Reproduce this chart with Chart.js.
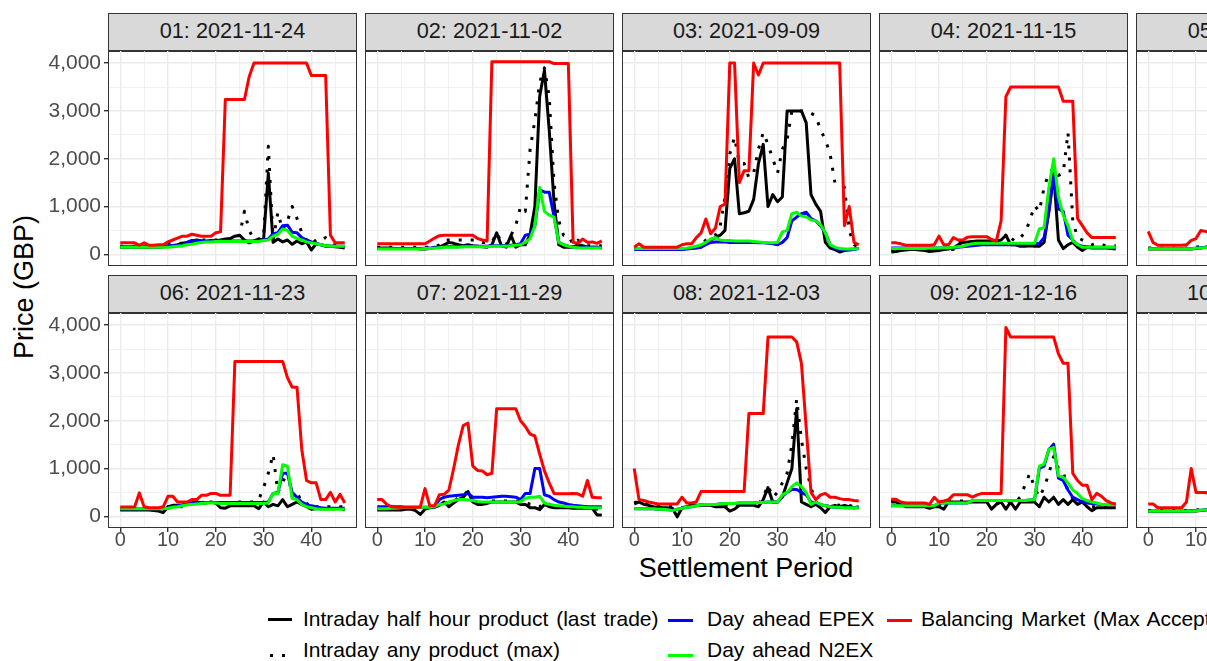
<!DOCTYPE html>
<html>
<head>
<meta charset="utf-8">
<script src="https://cdn.jsdelivr.net/npm/chart.js@4.4.1/dist/chart.umd.min.js"></script>
<style>
  html, body { margin: 0; padding: 0; width: 1207px; height: 661px; overflow: hidden; background: #fff; }
  body { position: relative; font-family: "Liberation Sans", Arial, sans-serif; }
  canvas { position: absolute; }
  .strip { position: absolute; box-sizing: border-box; background: #d9d9d9; border: 1.4px solid #333;
           color: #1a1a1a; font-size: 21.7px; text-align: center; white-space: nowrap; line-height: 34px; }
  .frame { position: absolute; box-sizing: border-box; border: 1.4px solid #333; pointer-events: none; }
  .title { position: absolute; color: #000; font-size: 27px; white-space: nowrap; }
  .lg-text { position: absolute; font-size: 21px; word-spacing: 2px; color: #000; white-space: nowrap; line-height: 24px; }
  .lg-key { position: absolute; height: 3px; }
</style>
</head>
<body>
<div class="title" id="ytitle" style="left:24px; top:287px; transform:translate(-50%,-50%) rotate(-90deg);">Price (GBP)</div>
<div class="title" style="left:746px; top:568px; transform:translate(-50%,-50%);">Settlement Period</div>

<div class="lg-key" style="left:268px; top:618px; width:24px; background:#000;"></div>
<div class="lg-text" style="left:303px; top:607px;">Intraday half hour product (last trade)</div>
<div class="lg-key" style="left:270px; top:654px; width:20px; background:repeating-linear-gradient(to right, #000 0 3px, transparent 3px 12px);"></div>
<div class="lg-text" style="left:303px; top:638px;">Intraday any product (max)</div>
<div class="lg-key" style="left:668px; top:619px; width:25px; background:#0000ff;"></div>
<div class="lg-text" style="left:707px; top:607px;">Day ahead EPEX</div>
<div class="lg-key" style="left:668px; top:654px; width:25px; background:#00ff00;"></div>
<div class="lg-text" style="left:707px; top:638px;">Day ahead N2EX</div>
<div class="lg-key" style="left:887px; top:619px; width:25px; background:#ff0000;"></div>
<div class="lg-text" style="left:921px; top:607px;">Balancing Market (Max Accepted Offer)</div>

<script>
// settlement periods (x values)
const periods = [0,1,2,3,4,5,6,7,8,9,10,11,12,13,14,15,16,17,18,19,20,21,22,23,
  24,25,26,27,28,29,30,31,32,33,34,35,36,37,38,39,40,41,42,43,44,45,46,47];

const xMajor = [0, 10, 20, 30, 40];
const xMinor = [5, 15, 25, 35, 45];
const yMajor = [0, 1000, 2000, 3000, 4000];
const yMinor = [500, 1500, 2500, 3500];

const panelTitles = ['01: 2021-11-24', '02: 2021-11-02', '03: 2021-09-09', '04: 2021-11-15', '05: 2021-11-26',
  '06: 2021-11-23', '07: 2021-11-29', '08: 2021-12-03', '09: 2021-12-16', '10: 2021-12-21'];

// 01
const p01_intraday = [150,150,150,150,150,150,150,150,150,160, 170,180,200,230,250,280,300,280,270,290, 280,300,320,330,380,400,300,240,280,320, 300,1700,250,320,260,300,210,280,220,260, 90,220,200,180,170,160,150,130];
const p01_anyMax = [170,170,170,170,170,170,170,170,170,170, 230,230,230,230,230,230,300,300,300,300, 300,300,300,320,350,400,900,500,300,320, 350,2260,300,880,500,700,1000,750,450,300, 380,250,300,350,280,200,180,150];
const p01_epex = [160,160,160,160,160,160,160,160,160,160, 180,180,180,180,250,290,290,280,280,280, 280,280,280,280,280,280,280,280,280,280, 300,320,430,450,600,610,460,450,350,300, 260,230,200,170,170,170,170,170];
const p01_n2ex = [150,150,150,150,150,150,150,150,150,150, 150,160,170,180,200,210,230,250,260,260, 270,270,270,270,270,270,270,270,270,270, 290,300,380,420,530,500,380,330,300,260, 240,220,200,180,170,170,170,170];
const p01_bm = [240,240,240,240,190,240,190,190,200,200, 260,300,340,380,380,420,400,380,380,380, 450,470,3240,3240,3240,3240,3240,3720,4000,4000, 4000,4000,4000,4000,4000,4000,4000,4000,4000,4000, 3740,3740,3740,3740,400,240,240,240];

// 02
const p02_intraday = [130,130,130,130,120,120,120,120,120,110, 110,120,150,150,200,250,230,200,180,200, 180,170,160,150,200,450,180,150,400,150, 200,200,420,1000,3300,3850,2600,1100,200,150, 150,150,200,180,150,150,150,130];
const p02_anyMax = [150,150,150,150,150,150,150,150,150,150, 150,150,150,200,300,300,300,300,300,300, 300,300,250,250,250,450,250,200,400,600, 1000,900,2200,2800,3600,3900,3300,1500,700,400, 400,200,300,200,180,180,180,180];
const p02_epex = [120,120,120,120,120,120,120,120,120,120, 130,130,140,150,160,160,160,160,170,170, 170,170,170,170,180,180,180,180,190,200, 220,400,420,600,1350,1300,1300,800,250,200, 170,160,150,150,150,150,150,150];
const p02_n2ex = [110,110,110,110,110,110,110,110,110,110, 120,120,130,140,150,150,150,150,160,160, 160,160,160,160,170,170,170,170,180,190, 200,250,330,600,1400,900,820,780,250,200, 170,150,140,130,130,130,130,130];
const p02_bm = [220,220,220,220,220,220,220,220,220,220, 220,280,340,390,400,400,400,400,400,400, 400,330,300,280,4030,4030,4030,4030,4030,4030, 4030,4030,4030,4030,4030,4030,4030,3990,3990,3990, 3990,250,230,320,250,260,230,280];

// 03
const p03_intraday = [120,110,110,100,100,100,100,100,100,110, 110,120,130,140,150,250,300,350,400,500, 1800,2000,850,870,900,1150,1900,2300,1000,1250, 1100,1200,3000,3000,3000,3000,2750,1250,1050,900, 250,130,100,50,80,100,110,130];
const p03_anyMax = [120,120,120,120,120,120,120,120,120,120, 120,120,120,150,200,300,350,400,600,1200, 2100,2450,1900,1900,1600,1700,2200,2550,2300,2000, 1700,2200,2400,3000,3000,3000,3000,2950,2900,2600, 2400,2100,1500,1450,1400,500,200,150];
const p03_epex = [100,100,100,100,100,100,100,100,100,100, 100,110,120,130,150,200,250,260,260,260, 250,250,250,250,250,250,240,240,230,220, 200,250,350,700,780,850,880,750,700,600, 450,200,120,100,90,90,100,120];
const p03_n2ex = [120,120,120,120,120,120,120,120,120,120, 120,130,150,170,200,250,320,350,300,290, 290,280,280,280,280,270,260,250,240,240, 250,470,500,850,880,800,780,720,700,620, 450,200,150,120,110,110,110,120];
const p03_bm = [150,220,150,150,150,150,150,150,150,150, 200,220,220,350,450,740,430,550,1000,1050, 4000,4000,1500,1750,1750,4000,3750,4000,4000,4000, 4000,4000,4000,4000,4000,4000,4000,4000,4000,4000, 4000,4000,4000,4000,600,1000,250,200];

// 04
const p04_intraday = [50,60,80,90,100,100,90,80,60,70, 80,100,110,130,200,250,260,270,280,280, 280,280,280,300,400,200,200,170,170,180, 170,170,250,900,1700,300,120,200,250,150, 80,150,130,130,130,130,120,110];
const p04_anyMax = [100,100,100,100,100,100,100,100,100,100, 100,100,100,100,270,270,270,270,270,270, 270,270,270,350,400,250,380,350,450,700, 1020,900,1400,1700,1800,1650,1700,2550,700,350, 300,250,200,230,200,180,180,180];
const p04_epex = [130,130,130,130,130,130,130,130,130,130, 130,130,130,130,150,160,170,180,190,200, 200,200,200,200,200,200,200,200,210,210, 220,230,350,900,1640,950,900,400,300,200, 170,160,150,150,150,150,150,150];
const p04_n2ex = [120,120,120,120,120,120,120,120,130,130, 130,140,140,150,160,170,200,220,230,230, 230,230,230,230,230,230,230,230,230,230, 230,530,560,1400,2000,1200,820,600,280,200, 150,150,150,150,150,150,150,150];
const p04_bm = [240,240,220,190,190,190,190,190,190,200, 380,200,200,350,300,300,360,370,370,370, 370,310,280,700,3300,3500,3500,3500,3500,3500, 3500,3500,3500,3500,3500,3500,3200,3200,3200,750, 600,450,350,350,350,350,350,350];

// 05
const p05_intraday = [110,110,110,110,110,110,110,110,110,110, 120,130,150,170,200,220,250,260,270,280, 300,320,350,400,500,700,900,1200,900,600, 450,400,350,300,280,260,250,240,230,220, 210,200,190,180,170,160,150,150];
const p05_anyMax = [130,130,130,130,130,130,130,130,130,130, 150,160,180,200,230,260,290,300,320,340, 360,400,450,550,800,1100,1500,1800,1300,900, 700,600,500,420,380,340,310,290,270,250, 240,230,220,210,200,190,180,170];
const p05_epex = [120,120,120,120,120,120,120,120,120,120, 130,140,150,170,190,210,230,240,250,260, 270,280,300,330,380,420,450,480,450,420, 380,350,320,300,280,260,240,220,200,190, 180,170,160,150,150,150,150,150];
const p05_n2ex = [115,115,115,115,115,115,115,115,115,115, 125,135,145,165,185,205,225,235,245,255, 265,275,290,320,370,410,440,470,440,410, 370,340,310,290,270,250,230,210,195,185, 175,165,155,150,150,150,150,150];
const p05_bm = [480,250,190,190,190,190,190,190,200,290, 330,500,480,450,420,400,420,450,500,600, 800,1200,2500,3000,3200,3200,3200,3000,2800,2500, 2000,1500,1000,800,700,600,550,500,450,400, 380,350,330,320,300,300,280,280];

// 06
const p06_intraday = [130,130,130,130,130,130,130,120,110,80, 200,230,230,230,270,280,300,280,280,300, 280,180,170,220,220,220,220,220,220,160, 300,200,250,220,350,200,250,300,250,200, 150,160,160,160,160,160,170,130];
const p06_anyMax = [150,150,150,150,150,150,150,150,150,150, 200,200,200,200,200,280,280,300,280,280, 280,280,280,280,280,300,300,300,300,350, 600,900,1300,500,700,950,400,500,300,250, 300,200,200,200,200,200,200,200];
const p06_epex = [160,160,160,160,160,160,160,160,160,160, 170,200,220,240,260,270,280,290,290,290, 290,290,290,290,290,290,290,290,290,290, 290,300,480,500,900,900,500,400,300,250, 220,200,180,170,170,170,170,170];
const p06_n2ex = [160,160,160,160,160,160,160,160,160,160, 170,190,200,220,240,250,260,270,280,280, 280,270,270,270,270,270,270,270,270,270, 270,280,480,480,1080,1050,370,350,250,200, 180,160,150,150,150,150,150,150];
const p06_bm = [195,195,195,195,490,200,180,180,180,200, 420,420,300,300,300,350,350,440,440,480, 480,440,440,440,3240,3240,3240,3240,3240,3240, 3240,3240,3240,3240,3240,2900,2700,2700,1400,750, 700,700,350,350,500,300,460,280];

// 07
const p07_intraday = [130,130,130,130,130,130,150,150,120,40, 150,180,190,230,300,200,280,350,400,520, 300,250,250,270,300,300,300,300,300,300, 250,250,180,180,140,250,200,180,180,180, 180,170,170,170,170,170,30,30];
const p07_anyMax = [150,150,150,150,150,150,170,170,150,100, 170,200,210,250,320,250,300,400,420,540, 320,280,280,290,320,320,320,320,320,320, 300,300,250,250,200,300,250,200,200,200, 200,200,200,200,200,200,150,100];
const p07_epex = [200,200,200,200,200,200,190,190,190,190, 190,190,200,350,400,420,430,440,450,480, 400,400,400,390,400,410,420,420,410,400, 350,480,480,1000,1000,450,420,350,300,280, 250,230,220,210,200,200,200,200];
const p07_n2ex = [160,160,160,170,170,180,190,190,190,190, 190,190,200,250,260,300,330,350,350,340, 330,310,300,300,300,300,300,300,300,300, 300,380,400,400,420,280,250,230,220,210, 200,200,190,190,180,180,180,180];
const p07_bm = [350,350,250,200,190,190,190,190,190,190, 580,220,220,450,460,550,1000,1500,1900,1950, 1050,960,950,870,900,2250,2250,2250,2250,2250, 2000,1880,1720,1680,1300,950,700,480,470,470, 470,480,470,420,750,400,390,390];

// 08
const p08_intraday = [260,300,250,230,200,190,180,180,170,-10, 180,200,230,230,230,230,230,200,200,200, 110,150,230,230,230,230,200,350,600,300, 300,400,700,1000,2250,300,250,200,250,180, 80,200,230,200,230,200,180,200];
const p08_anyMax = [280,320,280,250,230,220,200,200,200,100, 200,220,250,250,250,250,250,230,230,230, 200,200,260,260,260,260,250,400,650,400, 500,700,900,1500,2450,1600,1000,600,300,250, 200,230,250,230,250,230,200,220];
const p08_epex = [160,160,160,160,160,150,150,140,130,150, 170,190,200,220,240,250,250,250,260,270, 270,270,280,280,280,280,290,290,300,300, 300,420,500,560,560,500,450,300,280,250, 220,200,190,190,180,180,180,180];
const p08_n2ex = [160,160,160,160,160,150,150,140,120,150, 170,190,200,220,240,250,250,250,260,270, 270,270,280,280,280,280,290,290,300,300, 300,450,500,620,700,620,500,250,300,250, 220,200,190,190,180,180,180,180];
const p08_bm = [1000,350,330,300,280,260,260,260,260,260, 400,280,280,300,520,520,520,520,520,520, 520,520,520,520,2150,2150,2150,2150,3750,3750, 3750,3750,3750,3750,3650,3200,1850,500,350,450, 480,400,400,370,350,350,330,320];

// 09
const p09_intraday = [300,300,250,200,200,200,200,200,170,200, 200,150,300,300,300,300,300,300,300,300, 300,150,250,300,150,300,150,300,300,300, 300,200,400,300,400,250,350,250,350,250, 300,200,120,180,180,180,180,180];
const p09_anyMax = [320,320,280,250,250,250,250,250,220,250, 250,220,320,320,320,320,320,320,330,330, 330,300,300,330,300,330,300,400,650,900, 600,400,600,900,1250,1000,950,500,380,300, 320,250,200,200,200,200,200,200];
const p09_epex = [220,220,220,220,220,220,220,220,220,220, 280,280,280,280,280,280,280,330,330,330, 330,330,330,330,330,330,330,330,330,340, 350,1000,1050,1400,1510,800,750,550,400,350, 300,280,270,260,250,250,250,250];
const p09_n2ex = [220,220,220,220,220,220,220,220,220,220, 280,280,280,280,280,280,280,330,330,330, 330,330,330,330,330,330,330,330,330,340, 350,1050,1090,1400,1440,850,820,700,550,480, 370,330,300,280,250,250,250,250];
const p09_bm = [355,355,300,280,280,280,280,280,250,400, 300,320,350,450,450,450,450,400,450,480, 480,480,480,480,3950,3750,3750,3750,3750,3750, 3750,3750,3750,3750,3750,3400,3200,3200,900,750, 650,650,350,480,420,330,280,260];

// 10
const p10_intraday = [100,100,100,100,100,100,100,100,100,110, 110,120,130,150,170,200,220,240,250,260, 280,300,350,400,450,500,600,700,600,500, 450,400,350,300,280,260,240,220,200,190, 180,170,160,150,150,150,140,140];
const p10_anyMax = [120,120,120,120,120,120,120,120,120,130, 130,140,150,180,200,240,260,280,300,320, 340,380,450,550,650,800,1000,1200,900,700, 600,500,450,400,350,320,300,280,260,240, 220,210,200,190,180,180,170,170];
const p10_epex = [110,110,110,110,110,110,110,110,110,110, 120,130,140,160,180,200,220,230,240,250, 260,270,290,320,360,400,430,460,430,400, 360,330,300,280,260,240,220,200,190,180, 170,160,150,150,140,140,140,140];
const p10_n2ex = [105,105,105,105,105,105,105,105,105,105, 115,125,135,155,175,195,215,225,235,245, 255,265,285,315,355,395,425,455,425,395, 355,325,295,275,255,235,215,195,185,175, 165,155,145,145,140,140,140,140];
const p10_bm = [260,260,180,180,180,180,180,180,300,1000, 500,500,500,450,400,400,420,450,500,800, 1500,2500,3000,3000,3000,3000,2800,2500,2000,1500, 1000,800,700,600,500,450,420,400,380,350, 330,300,300,300,280,280,280,280];

const panels = [
  [p01_intraday, p01_anyMax, p01_epex, p01_n2ex, p01_bm],
  [p02_intraday, p02_anyMax, p02_epex, p02_n2ex, p02_bm],
  [p03_intraday, p03_anyMax, p03_epex, p03_n2ex, p03_bm],
  [p04_intraday, p04_anyMax, p04_epex, p04_n2ex, p04_bm],
  [p05_intraday, p05_anyMax, p05_epex, p05_n2ex, p05_bm],
  [p06_intraday, p06_anyMax, p06_epex, p06_n2ex, p06_bm],
  [p07_intraday, p07_anyMax, p07_epex, p07_n2ex, p07_bm],
  [p08_intraday, p08_anyMax, p08_epex, p08_n2ex, p08_bm],
  [p09_intraday, p09_anyMax, p09_epex, p09_n2ex, p09_bm],
  [p10_intraday, p10_anyMax, p10_epex, p10_n2ex, p10_bm],
];

// series styles, in legend order
const seriesStyle = [
  { color: '#000000', dash: [] },
  { color: '#000000', dash: [3, 9] },
  { color: '#0000ff', dash: [] },
  { color: '#00ff00', dash: [] },
  { color: '#ff0000', dash: [] },
];

// layout
const PANEL_X0 = 109, STEP_X = 257, PANEL_W = 247;
const PLOT_Y0 = 51, STEP_Y = 262, PANEL_H = 214, STRIP_H = 37;
const Y_AXIS_W = 69, X_AXIS_H = 32;
const X_MIN = -2.35, X_MAX = 49.35, Y_MIN = -223, Y_MAX = 4253;
const GRID = '#ebebeb';
const FONT = '"Liberation Sans", Arial, sans-serif';

Chart.defaults.font.family = FONT;

function isMajor(list, ctx) {
  return ctx.tick && list.includes(ctx.tick.value);
}

function makePanel(idx) {
  const row = Math.floor(idx / 5), col = idx % 5;
  const left = PANEL_X0 + col * STEP_X;
  const top = PLOT_Y0 + row * STEP_Y;
  const yW = col === 0 ? Y_AXIS_W : 0;
  const xH = row === 1 ? X_AXIS_H : 0;

  const strip = document.createElement('div');
  strip.className = 'strip';
  strip.style.left = (left - 0.7) + 'px';
  strip.style.top = (top - STRIP_H - 0.7) + 'px';
  strip.style.width = (PANEL_W + 1.4) + 'px';
  strip.style.height = (STRIP_H + 1.4) + 'px';
  strip.textContent = panelTitles[idx];
  document.body.appendChild(strip);

  const canvas = document.createElement('canvas');
  canvas.width = PANEL_W + yW;
  canvas.height = PANEL_H + xH;
  canvas.style.left = (left - yW) + 'px';
  canvas.style.top = top + 'px';
  document.body.appendChild(canvas);

  const frame = document.createElement('div');
  frame.className = 'frame';
  frame.style.left = (left - 0.7) + 'px';
  frame.style.top = (top - 0.7) + 'px';
  frame.style.width = (PANEL_W + 1.4) + 'px';
  frame.style.height = (PANEL_H + 1.4) + 'px';
  document.body.appendChild(frame);

  // red drawn last (on top): Chart.js draws index 0 on top
  const datasets = panels[idx].map((values, s) => ({
    data: periods.map((p, i) => ({ x: p, y: values[i] })),
    borderColor: seriesStyle[s].color,
    borderDash: seriesStyle[s].dash,
    borderWidth: 3,
    borderCapStyle: 'butt',
    borderJoinStyle: 'round',
    pointRadius: 0,
    tension: 0,
    fill: false,
  })).reverse();

  new Chart(canvas, {
    type: 'line',
    data: { datasets },
    options: {
      responsive: false,
      animation: false,
      devicePixelRatio: 1,
      layout: { padding: 0 },
      plugins: { legend: { display: false }, tooltip: { enabled: false } },
      scales: {
        x: {
          type: 'linear', min: X_MIN, max: X_MAX,
          afterBuildTicks: a => { a.ticks = xMajor.concat(xMinor).sort((u, v) => u - v).map(v => ({ value: v })); },
          afterFit: s => { s.height = xH; s.paddingLeft = 0; s.paddingRight = 0; },
          border: { display: false },
          grid: {
            color: GRID,
            lineWidth: ctx => isMajor(xMajor, ctx) ? 1.4 : 0.7,
            drawTicks: xH > 0,
            tickLength: 5,
            tickWidth: 1.4,
            tickColor: ctx => isMajor(xMajor, ctx) ? '#333333' : 'rgba(0,0,0,0)',
          },
          ticks: {
            display: xH > 0, autoSkip: false, maxRotation: 0,
            color: '#4d4d4d', padding: -1.5,
            font: { family: FONT, size: 20, lineHeight: 1 },
            callback: v => xMajor.includes(v) ? String(v) : '',
          },
        },
        y: {
          type: 'linear', min: Y_MIN, max: Y_MAX,
          afterBuildTicks: a => { a.ticks = yMajor.concat(yMinor).sort((u, v) => u - v).map(v => ({ value: v })); },
          afterFit: s => { s.width = yW; s.paddingTop = 0; s.paddingBottom = 0; },
          border: { display: false },
          grid: {
            color: GRID,
            lineWidth: ctx => isMajor(yMajor, ctx) ? 1.4 : 0.7,
            drawTicks: yW > 0,
            tickLength: 5,
            tickWidth: 1.4,
            tickColor: ctx => isMajor(yMajor, ctx) ? '#333333' : 'rgba(0,0,0,0)',
          },
          ticks: {
            display: yW > 0, autoSkip: false,
            color: '#4d4d4d', padding: 3,
            font: { family: FONT, size: 21, lineHeight: 1 },
            callback: v => yMajor.includes(v) ? v.toLocaleString('en-US') : '',
          },
        },
      },
    },
  });
}

for (let i = 0; i < panels.length; i++) makePanel(i);
</script>
</body>
</html>
